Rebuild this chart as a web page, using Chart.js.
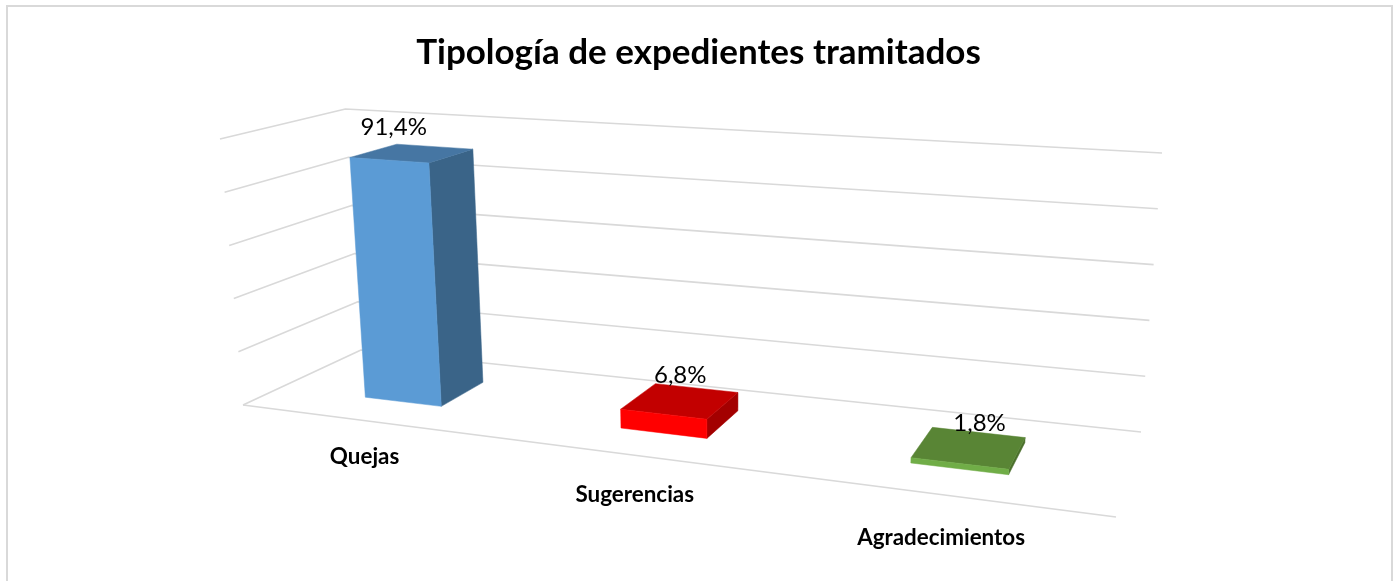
<!DOCTYPE html>
<html><head><meta charset="utf-8">
<style>html,body{margin:0;padding:0;background:#fff}#w{position:absolute;left:0;top:0;width:1397px;height:581px}</style>
<script src="https://cdn.jsdelivr.net/npm/chart.js@4"></script></head>
<body><div id="w"><canvas id="c"></canvas></div>
<script>
const titleText = 'Tipología de expedientes tramitados';
const categories = ['Quejas', 'Sugerencias', 'Agradecimientos'];
const values = [91.4, 6.8, 1.8];
const valueLabels = ['91,4%', '6,8%', '1,8%'];
const faceColors = ['#5B9BD5', '#FF0000', '#70AD47'];
const topColors = ['#4676A3', '#C20000', '#598535'];
const sideColors = ['#3A6488', '#A30000', '#4B702C'];

// view of the 3D box: floor and ceiling corners on the page, and where verticals converge
const FLOOR = [[243,405],[1116,517],[1141,432],[361,350]];
const CEIL = [[220,139],[1139,193],[1162,153],[346,109]];
const VP = [724,5967];
const BAR_D0 = 0.30, BAR_D1 = 0.70, BAR_S = 0.014;
const LABEL_S = [0.076, 0.059, 0.027], LABEL_D = -0.41;
const VALUE_LABEL_S = [-0.012, 0, -0.002];

function homography(q){
  const [x0,y0]=q[0],[x1,y1]=q[1],[x2,y2]=q[2],[x3,y3]=q[3];
  const dx1=x1-x2,dx2=x3-x2,sx=x0-x1+x2-x3,dy1=y1-y2,dy2=y3-y2,sy=y0-y1+y2-y3;
  const den=dx1*dy2-dx2*dy1;
  const g=(sx*dy2-dx2*sy)/den,h=(dx1*sy-sx*dy1)/den;
  return {a:x1-x0+g*x1,b:x3-x0+h*x3,c:x0,d:y1-y0+g*y1,e:y3-y0+h*y3,f:y0,g,h};
}
const HF=homography(FLOOR),HC=homography(CEIL);
function apply(M,s,d){
  const W=M.g*s+M.h*d+1;
  return [(M.a*s+M.b*d+M.c)/W,(M.d*s+M.e*d+M.f)/W];
}
function project(s,v,d){
  const p=apply(HF,s,d),q=apply(HC,s,d);
  const y=p[1]+(q[1]-p[1])*v;
  const x=p[0]+(VP[0]-p[0])*(y-p[1])/(VP[1]-p[1]);
  return [x,y];
}
function barS(s){ return s+BAR_S+0.0022-0.06*(s-0.45)*(s-0.45); }
function poly(ctx,pts,fill){
  ctx.beginPath();pts.forEach((p,i)=>i?ctx.lineTo(p[0],p[1]):ctx.moveTo(p[0],p[1]));ctx.closePath();
  ctx.fillStyle=fill;ctx.fill();ctx.strokeStyle=fill;ctx.lineWidth=0.5;ctx.stroke();
}
function seg(ctx,pts){
  ctx.beginPath();pts.forEach((p,i)=>i?ctx.lineTo(p[0],p[1]):ctx.moveTo(p[0],p[1]));ctx.stroke();
}
const box3d={
  id:'box3d',
  beforeDraw(chart){
    const ctx=chart.ctx;ctx.save();
    ctx.strokeStyle='#D9D9D9';ctx.lineWidth=2;
    ctx.strokeRect(7,6,1385,640);ctx.restore();
  },
  beforeDatasetsDraw(chart){
    const {ctx,chartArea:ca,scales:{y}}=chart;
    ctx.save();ctx.strokeStyle='#D9D9D9';ctx.lineWidth=1.6;ctx.lineJoin='round';
    y.ticks.forEach(t=>{
      const v=(ca.bottom-y.getPixelForValue(t.value))/(ca.bottom-ca.top);
      seg(ctx,[project(0,v,0),project(0,v,1),project(1,v,1)]);
    });
    seg(ctx,[project(0,0,0),project(1,0,0)]);
    ctx.restore();
  },
  beforeDatasetDraw(chart,args){
    const {ctx,chartArea:ca}=chart;
    const meta=args.meta,w=ca.right-ca.left,h=ca.bottom-ca.top;
    ctx.save();
    meta.data.forEach((el,i)=>{
      const p=el.getProps(['x','y','base','width'],false);
      const s0=barS((p.x-p.width/2-ca.left)/w),s1=barS((p.x+p.width/2-ca.left)/w);
      const v=(ca.bottom-p.y)/h,d0=BAR_D0,d1=BAR_D1;
      poly(ctx,[project(s1,0,d0),project(s1,0,d1),project(s1,v,d1),project(s1,v,d0)],sideColors[i]);
      poly(ctx,[project(s0,v,d0),project(s1,v,d0),project(s1,v,d1),project(s0,v,d1)],topColors[i]);
      poly(ctx,[project(s0,0,d0),project(s1,0,d0),project(s1,v,d0),project(s0,v,d0)],faceColors[i]);
    });
    ctx.restore();
    return false;
  },
  afterDatasetsDraw(chart){
    const {ctx,chartArea:ca}=chart;
    const meta=chart.getDatasetMeta(0),w=ca.right-ca.left,h=ca.bottom-ca.top;
    ctx.save();ctx.textAlign='center';ctx.textBaseline='middle';ctx.fillStyle='#000';
    meta.data.forEach((el,i)=>{
      const p=el.getProps(['x','y'],false);
      const s=(p.x-ca.left)/w,v=(ca.bottom-p.y)/h;
      const sl=barS(0.5+(s-0.5)*1.04)+VALUE_LABEL_S[i];
      const q=project(sl,v,(BAR_D0+BAR_D1)/2);
      ctx.font='400 24px Lato';
      ctx.fillText(valueLabels[i],q[0],q[1]-25);
      const f=project(s+LABEL_S[i],0,LABEL_D);
      ctx.font='700 22.4px Lato';
      ctx.fillText(chart.data.labels[i],f[0],f[1]);
    });
    ctx.restore();
  }
};
new Chart(document.getElementById('c'),{
  type:'bar',
  data:{labels:categories,datasets:[{data:values,backgroundColor:faceColors,barPercentage:0.31,categoryPercentage:1}]},
  options:{
    responsive:true,maintainAspectRatio:false,animation:false,
    layout:{padding:{top:32,left:0,right:0,bottom:0}},
    plugins:{legend:{display:false},tooltip:{enabled:false},
      title:{display:true,text:titleText,color:'#000',font:{family:'Lato',size:35,weight:'700'},padding:{top:0,bottom:10}}},
    scales:{
      x:{display:false},
      y:{display:false,min:0,max:100,ticks:{stepSize:20}}
    }
  },
  plugins:[box3d]
});
</script></body></html>
